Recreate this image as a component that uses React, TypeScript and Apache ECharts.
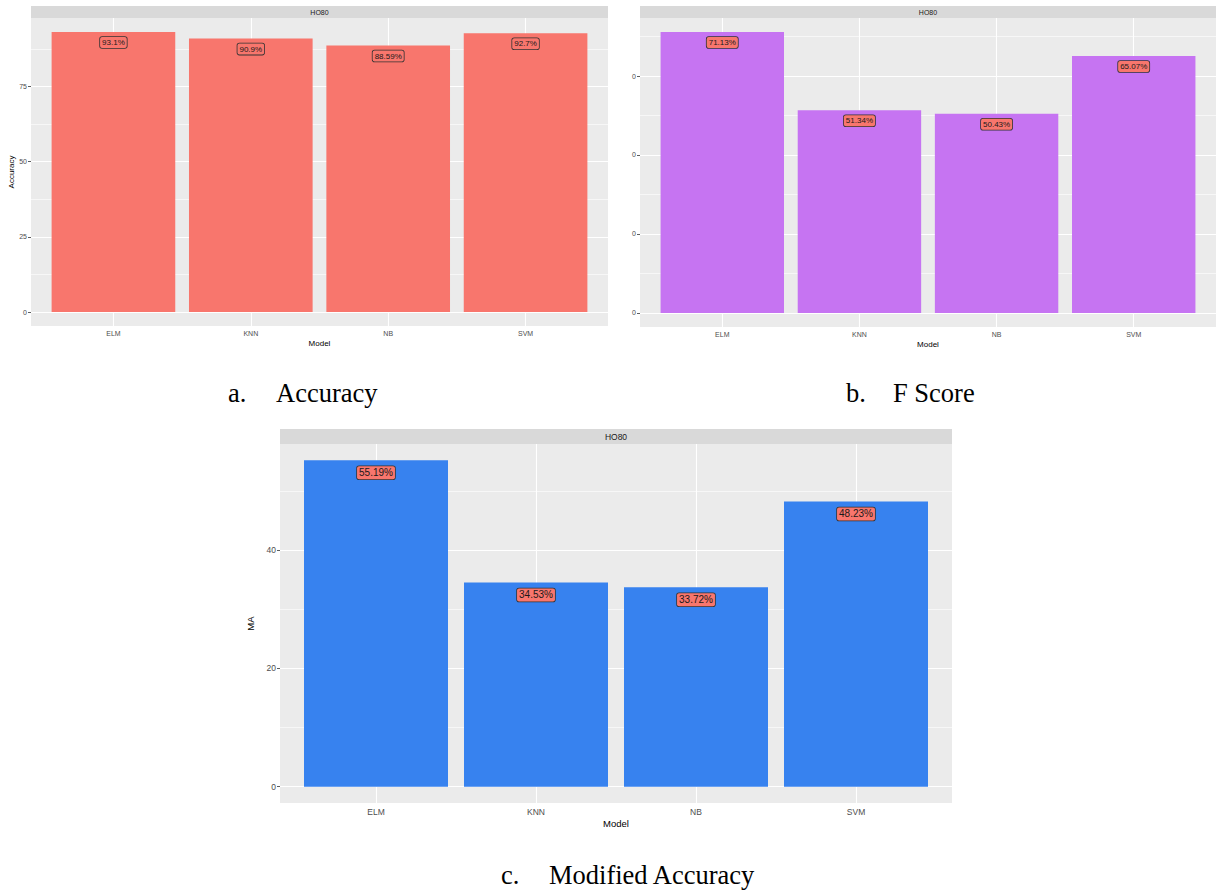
import React, { useEffect, useRef } from "react";
import * as echarts from "echarts";

const models = ["ELM", "KNN", "NB", "SVM"];
const accuracy = [93.1, 90.9, 88.59, 92.7];
const fScore = [71.13, 51.34, 50.43, 65.07];
const modifiedAccuracy = [55.19, 34.53, 33.72, 48.23];
const accuracyTicks = [0, 25, 50, 75];
const accuracyMinor = [12.5, 37.5, 62.5, 87.5];
const fScoreTicks = [0, 20, 40, 60];
const fScoreMinor = [10, 30, 50, 70];
const maTicks = [0, 20, 40];
const maMinor = [10, 30, 50];
const stripLabel = "HO80";
const xTitle = "Model";

const SANS = "'Liberation Sans', Arial, sans-serif";
const SERIF = "'Liberation Serif', 'Times New Roman', serif";

type Panel = {
  values: number[];
  color: string;
  ticks: number[];
  minor: number[];
  tickFmt: (v: number) => string;
  yName: string;
  box: { left: number; top: number; width: number; height: number };
  strip: { top: number; height: number; font: number };
  tickFont: number;
  titleFont: number;
  labelFont: number;
  labelDist: number;
  yNameGap: number;
  xNameGap: number;
};

const panels: Panel[] = [
  {
    values: accuracy,
    color: "#F8766D",
    ticks: accuracyTicks,
    minor: accuracyMinor,
    tickFmt: (v) => String(v),
    yName: "Accuracy",
    box: { left: 31, top: 18, width: 577, height: 308 },
    strip: { top: 6, height: 12, font: 7 },
    tickFont: 7,
    titleFont: 8,
    labelFont: 8,
    labelDist: 5,
    yNameGap: 13,
    xNameGap: 13,
  },
  {
    values: fScore,
    color: "#C674F2",
    ticks: fScoreTicks,
    minor: fScoreMinor,
    tickFmt: () => "0",
    yName: "",
    box: { left: 640, top: 18, width: 576, height: 309 },
    strip: { top: 6, height: 12, font: 7 },
    tickFont: 7,
    titleFont: 8,
    labelFont: 8,
    labelDist: 5,
    yNameGap: 13,
    xNameGap: 13,
  },
  {
    values: modifiedAccuracy,
    color: "#3782EF",
    ticks: maTicks,
    minor: maMinor,
    tickFmt: (v) => String(v),
    yName: "MA",
    box: { left: 280, top: 444, width: 672, height: 359 },
    strip: { top: 429, height: 15, font: 8.5 },
    tickFont: 8.5,
    titleFont: 9.5,
    labelFont: 10,
    labelDist: 6,
    yNameGap: 17,
    xNameGap: 15,
  },
];

const captions = [
  { letter: "a.", text: "Accuracy", lx: 228, tx: 276, y: 393 },
  { letter: "b.", text: "F Score", lx: 846, tx: 893, y: 393 },
  { letter: "c.", text: "Modified Accuracy", lx: 501, tx: 549, y: 875 },
];

function buildOption() {
  const grid: any[] = [];
  const xAxis: any[] = [];
  const yAxis: any[] = [];
  const series: any[] = [];
  const graphic: any[] = [];
  const catPos = models.map((_, i) => i + 1);

  panels.forEach((p, i) => {
    const maxV = Math.max(...p.values);
    const yMin = -0.05 * maxV;
    const yMax = 1.05 * maxV;
    const unitPx = p.box.width / 4.2;
    grid.push({
      left: p.box.left,
      top: p.box.top,
      width: p.box.width,
      height: p.box.height,
      show: true,
      backgroundColor: "#EBEBEB",
      borderWidth: 0,
      containLabel: false,
    });
    xAxis.push({
      gridIndex: i,
      type: "value",
      min: 0.4,
      max: 4.6,
      axisLine: { show: false },
      splitLine: { show: false },
      axisTick: {
        show: true,
        customValues: catPos,
        length: 3,
        lineStyle: { color: "#333333", width: 0.8 },
      },
      axisLabel: {
        customValues: catPos,
        formatter: (v: number) => models[Math.round(v) - 1] ?? "",
        fontSize: p.tickFont,
        fontFamily: SANS,
        color: "#4D4D4D",
        margin: 4,
      },
      name: xTitle,
      nameLocation: "middle",
      nameGap: p.xNameGap,
      nameTextStyle: { fontSize: p.titleFont, fontFamily: SANS, color: "#000" },
    });
    yAxis.push({
      gridIndex: i,
      type: "value",
      min: yMin,
      max: yMax,
      axisLine: { show: false },
      splitLine: { show: false },
      axisTick: {
        show: true,
        customValues: p.ticks,
        length: 3,
        lineStyle: { color: "#333333", width: 0.8 },
      },
      axisLabel: {
        customValues: p.ticks,
        formatter: (v: number) => p.tickFmt(Math.round(v * 100) / 100),
        fontSize: p.tickFont,
        fontFamily: SANS,
        color: "#4D4D4D",
        margin: 4,
      },
      name: p.yName,
      nameLocation: "middle",
      nameRotate: 90,
      nameGap: p.yNameGap,
      nameTextStyle: { fontSize: p.titleFont, fontFamily: SANS, color: "#000" },
    });
    const lines: any[] = [];
    p.minor.forEach((v) => lines.push({ yAxis: v, lineStyle: { width: 0.6 } }));
    p.ticks.forEach((v) => lines.push({ yAxis: v, lineStyle: { width: 1.1 } }));
    catPos.forEach((v) => lines.push({ xAxis: v, lineStyle: { width: 1.1 } }));
    series.push({
      type: "line",
      xAxisIndex: i,
      yAxisIndex: i,
      data: [],
      silent: true,
      markLine: {
        silent: true,
        z: 1,
        symbol: "none",
        label: { show: false },
        lineStyle: { color: "#FFFFFF", type: "solid", width: 1 },
        data: lines,
      },
    });
    series.push({
      type: "bar",
      xAxisIndex: i,
      yAxisIndex: i,
      z: 10,
      barWidth: unitPx * 0.9,
      itemStyle: { color: p.color },
      data: p.values.map((v, k) => [k + 1, v]),
      label: {
        show: true,
        position: "insideTop",
        distance: p.labelDist,
        formatter: (d: any) => `${d.value[1]}%`,
        fontSize: p.labelFont,
        fontFamily: SANS,
        color: "#1A1A1A",
        backgroundColor: "#F8766D",
        borderColor: "#333333",
        borderWidth: 0.8,
        borderRadius: 2,
        padding: [1.5, 2, 1.5, 2],
      },
    });
    graphic.push({
      type: "rect",
      shape: { x: p.box.left, y: p.strip.top, width: p.box.width, height: p.strip.height },
      style: { fill: "#D9D9D9" },
      silent: true,
    });
    graphic.push({
      type: "text",
      x: p.box.left + p.box.width / 2,
      y: p.strip.top + p.strip.height / 2,
      style: {
        text: stripLabel,
        font: `${p.strip.font}px ${SANS}`,
        fill: "#1A1A1A",
        textAlign: "center",
        textVerticalAlign: "middle",
        align: "center",
        verticalAlign: "middle",
      },
      silent: true,
    });
  });

  captions.forEach((c) => {
    [
      { t: c.letter, x: c.lx },
      { t: c.text, x: c.tx },
    ].forEach((item) => {
      graphic.push({
        type: "text",
        x: item.x,
        y: c.y,
        style: {
          text: item.t,
          font: `26.5px ${SERIF}`,
          fill: "#000",
          textAlign: "left",
          textVerticalAlign: "middle",
          align: "left",
          verticalAlign: "middle",
        },
      });
    });
  });

  return {
    animation: false,
    backgroundColor: "#FFFFFF",
    grid,
    xAxis,
    yAxis,
    series,
    graphic,
  };
}

export default function App() {
  const ref = useRef<HTMLDivElement>(null);
  useEffect(() => {
    if (!ref.current) return;
    const chart = echarts.init(ref.current, undefined, { renderer: "svg" });
    chart.setOption(buildOption() as any);
    return () => chart.dispose();
  }, []);
  return (
    <div
      ref={ref}
      style={{ position: "absolute", left: 0, top: 0, width: 1217, height: 892, background: "#fff" }}
    />
  );
}
